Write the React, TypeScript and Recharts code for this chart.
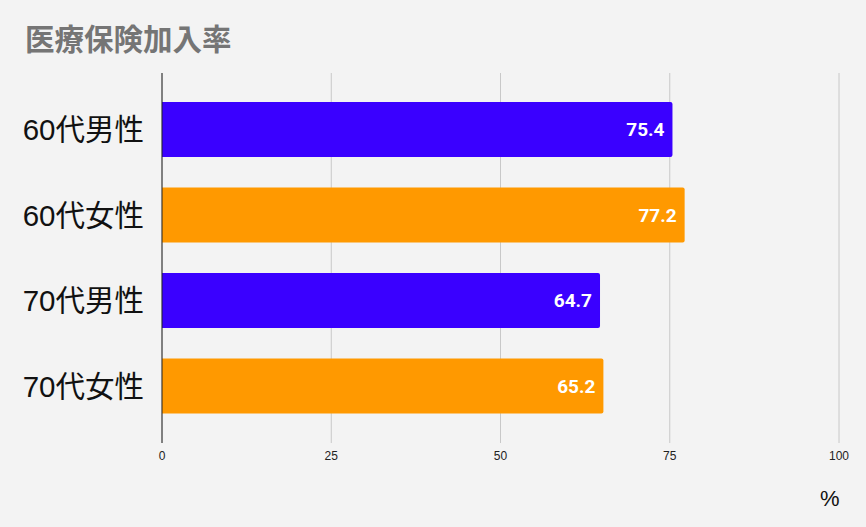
import React from "react";
import { BarChart, Bar, XAxis, YAxis, CartesianGrid, Cell, LabelList } from "recharts";

const categories = ["60代男性", "60代女性", "70代男性", "70代女性"];
const values = [75.4, 77.2, 64.7, 65.2];
const barColors = ["#3a00ff", "#ff9900", "#3a00ff", "#ff9900"];
const xTicks = [0, 25, 50, 75, 100];

const data = categories.map((c, i) => ({ name: c, value: values[i] }));

export default function App() {
  return (
    <div style={{ position: "fixed", left: 0, top: 0, width: 866, height: 527, background: "#f3f3f3", overflow: "hidden" }}>
      <div
        style={{
          position: "absolute",
          left: 25,
          top: 17,
          fontFamily: "'Noto Sans CJK JP', sans-serif",
          fontWeight: 700,
          fontSize: 29.5,
          lineHeight: "40px",
          color: "#757575",
          whiteSpace: "nowrap",
        }}
      >
        医療保険加入率
      </div>
      <BarChart
        width={866}
        height={527}
        data={data}
        layout="vertical"
        margin={{ top: 73, right: 27, bottom: 54, left: 0 }}
        barSize={55}
      >
        <CartesianGrid horizontal={false} stroke="#c8c8c8" />
        <XAxis
          type="number"
          domain={[0, 100]}
          ticks={xTicks}
          axisLine={false}
          tickLine={false}
          height={30}
          tickMargin={2}
          tick={{ fontSize: 12, fill: "#222", fontFamily: "'Liberation Sans', Arial, sans-serif" }}
        />
        <YAxis
          type="category"
          dataKey="name"
          width={162}
          padding={{ top: 14, bottom: 14 }}
          axisLine={{ stroke: "#222" }}
          tickLine={false}
          tickMargin={12}
          tick={{ fontSize: 29.5, fill: "#111", fontFamily: "'Liberation Sans', 'Noto Sans CJK JP', sans-serif" }}
        />
        <Bar dataKey="value" isAnimationActive={false} radius={[0, 2, 2, 0]}>
          {data.map((d, i) => (
            <Cell key={d.name} fill={barColors[i]} />
          ))}
          <LabelList
            dataKey="value"
            position="insideRight"
            offset={8}
            fill="#ffffff"
            style={{ fontSize: 19, fontWeight: 700, fontFamily: "Roboto, sans-serif" }}
          />
        </Bar>
      </BarChart>
      <div
        style={{
          position: "absolute",
          left: 820,
          top: 484,
          fontFamily: "'Liberation Sans', Arial, sans-serif",
          fontSize: 22,
          color: "#111",
          lineHeight: "30px",
        }}
      >
        %
      </div>
    </div>
  );
}
